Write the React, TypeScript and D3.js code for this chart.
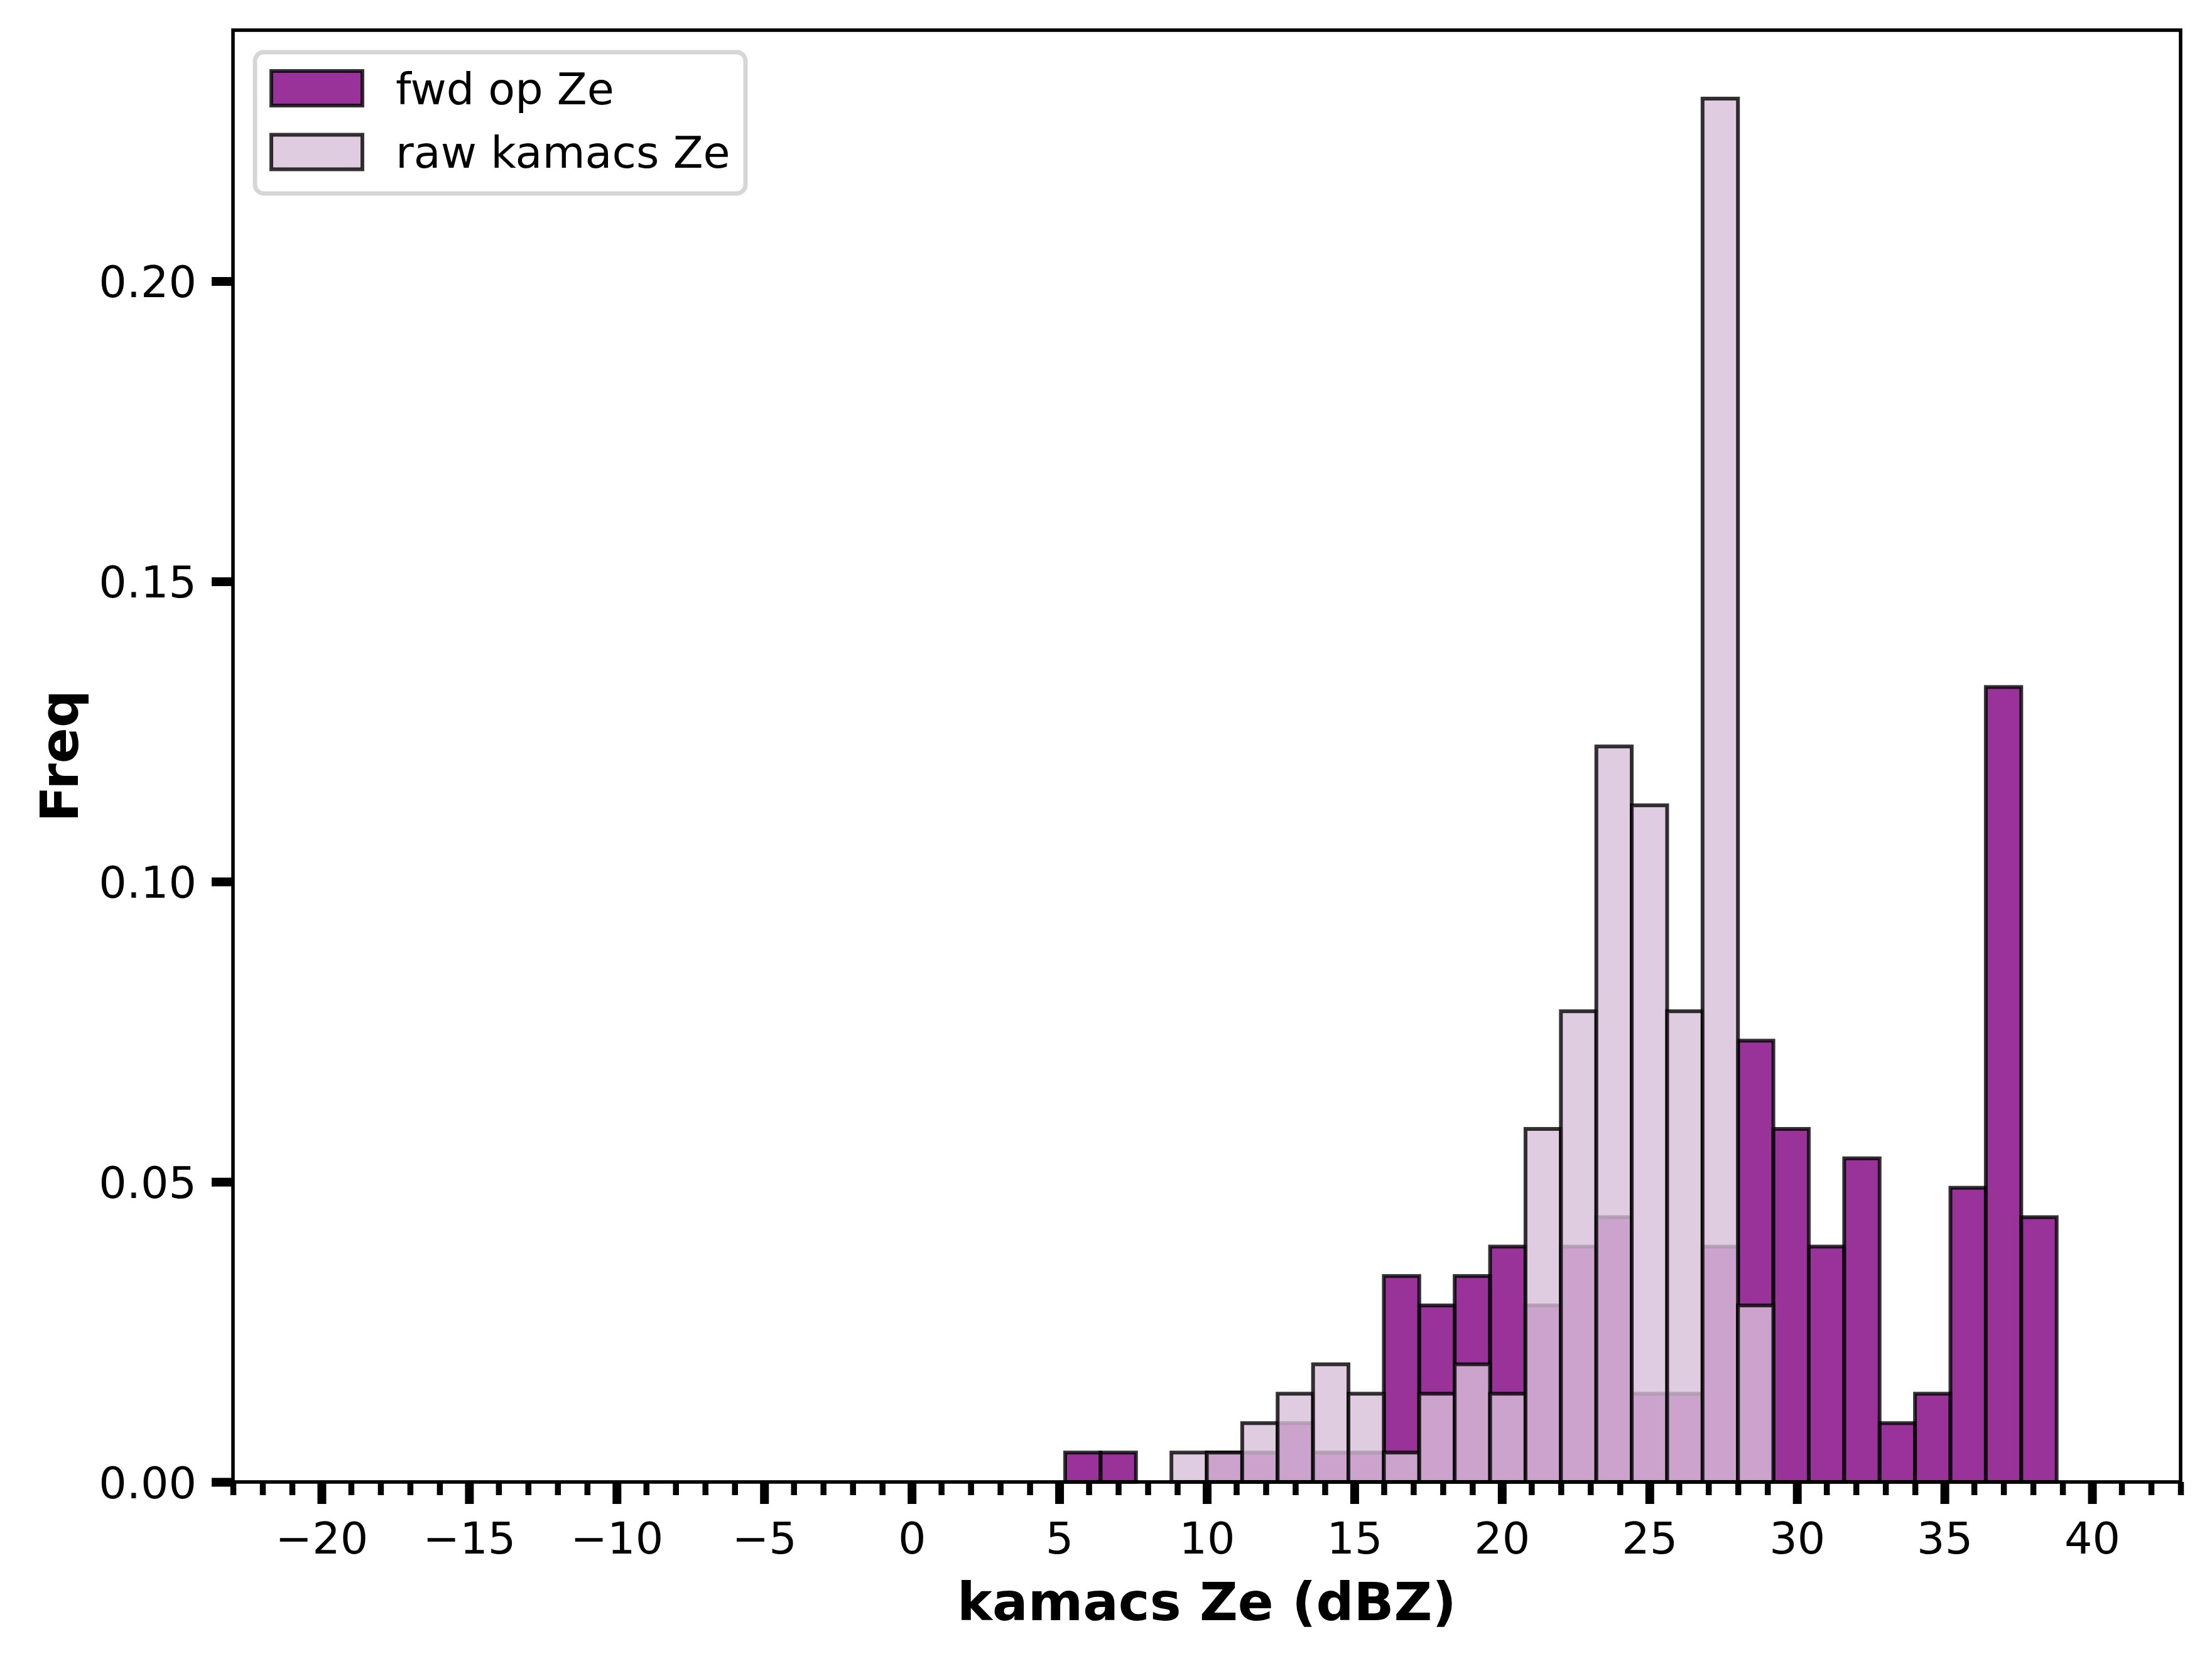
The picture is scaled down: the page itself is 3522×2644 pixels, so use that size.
import { useEffect, useRef } from "react"
import * as d3 from "d3"

// shared histogram bin edges (dBZ)
const binEdges = [
  5.2, 6.4, 7.6, 8.8, 10.0, 11.2, 12.4, 13.6, 14.8, 16.0, 17.2, 18.4, 19.6, 20.8, 22.0,
  23.2, 24.4, 25.6, 26.8, 28.0, 29.2, 30.4, 31.6, 32.8, 34.0, 35.2, 36.4, 37.6, 38.8,
]

// frequency per bin
const fwdFreq = [
  0.0049, 0.0049, 0, 0, 0.0049, 0.0049, 0.0098, 0.0049, 0.0049, 0.0343, 0.0294, 0.0343, 0.0392, 0.0294,
  0.0392, 0.0441, 0.0147, 0.0147, 0.0392, 0.0735, 0.0588, 0.0392, 0.0539, 0.0098, 0.0147, 0.049, 0.1324, 0.0441,
]
const rawFreq = [
  0, 0, 0, 0.0049, 0.0049, 0.0098, 0.0147, 0.0196, 0.0147, 0.0049, 0.0147, 0.0196, 0.0147, 0.0588,
  0.0784, 0.1225, 0.1127, 0.0784, 0.2304, 0.0294, 0, 0, 0, 0, 0, 0, 0, 0,
]

const seriesNames = ["fwd op Ze", "raw kamacs Ze"]
const xMajorTicks = [-20, -15, -10, -5, 0, 5, 10, 15, 20, 25, 30, 35, 40]
const yTicks = [0, 0.05, 0.1, 0.15, 0.2]

const W = 3522
const H = 2644
const FONT = "DejaVu Sans, Liberation Sans, sans-serif"

export default function App() {
  const svgRef = useRef<SVGSVGElement>(null)

  useEffect(() => {
    if (!svgRef.current) return
    const svg = d3.select(svgRef.current)
    svg.selectAll("*").remove()

    const left = 371
    const right = 3472
    const top = 48
    const bottom = 2359

    const x = d3.scaleLinear().domain([-23, 43]).range([left, right])
    const y = d3.scaleLinear().domain([0, 0.2418]).range([bottom, top])

    svg.append("rect").attr("width", W).attr("height", H).attr("fill", "white")

    const drawBars = (vals: number[], fill: string) => {
      const g = svg.append("g")
      vals.forEach((v, i) => {
        if (v <= 0) return
        g.append("rect")
          .attr("x", x(binEdges[i]))
          .attr("y", y(v))
          .attr("width", x(binEdges[i + 1]) - x(binEdges[i]))
          .attr("height", y(0) - y(v))
          .attr("fill", fill)
          .attr("fill-opacity", 0.8)
          .attr("stroke", "black")
          .attr("stroke-opacity", 0.8)
          .attr("stroke-width", 6)
      })
    }
    drawBars(fwdFreq, "purple")
    drawBars(rawFreq, "thistle")

    // spines
    svg.append("rect")
      .attr("x", left)
      .attr("y", top)
      .attr("width", right - left)
      .attr("height", bottom - top)
      .attr("fill", "none")
      .attr("stroke", "black")
      .attr("stroke-width", 5.6)

    // x minor ticks
    const minor = d3.range(-23, 44).filter((d) => d % 5 !== 0)
    svg.append("g")
      .attr("transform", `translate(0,${bottom})`)
      .call(d3.axisBottom(x).tickValues(minor).tickSize(21).tickFormat(() => ""))
      .call((g) => g.select(".domain").remove())
      .selectAll("line")
      .attr("stroke", "black")
      .attr("stroke-width", 9.5)

    // x major ticks
    const xAxis = svg.append("g")
      .attr("transform", `translate(0,${bottom})`)
      .call(d3.axisBottom(x).tickValues(xMajorTicks).tickSize(35).tickPadding(29).tickFormat(d3.format("d")))
      .call((g) => g.select(".domain").remove())
    xAxis.selectAll("line").attr("stroke", "black").attr("stroke-width", 14)
    xAxis.selectAll("text").attr("font-size", 70).attr("font-family", FONT).attr("fill", "black")

    // y ticks
    const yAxis = svg.append("g")
      .attr("transform", `translate(${left},0)`)
      .call(d3.axisLeft(y).tickValues(yTicks).tickSize(34).tickPadding(24).tickFormat(d3.format(".2f")))
      .call((g) => g.select(".domain").remove())
    yAxis.selectAll("line").attr("stroke", "black").attr("stroke-width", 14)
    yAxis.selectAll("text")
      .attr("font-size", 70)
      .attr("font-family", FONT)
      .attr("fill", "black")
      .attr("dy", "0.36em")

    // axis labels
    svg.append("text")
      .attr("x", (left + right) / 2)
      .attr("y", 2579)
      .attr("text-anchor", "middle")
      .attr("font-family", FONT)
      .attr("font-weight", "bold")
      .attr("font-size", 84)
      .text("kamacs Ze (dBZ)")

    svg.append("text")
      .attr("transform", `translate(124,${(top + bottom) / 2}) rotate(-90)`)
      .attr("text-anchor", "middle")
      .attr("font-family", FONT)
      .attr("font-weight", "bold")
      .attr("font-size", 84)
      .text("Freq")

    // legend
    const lg = svg.append("g")
    lg.append("rect")
      .attr("x", 406)
      .attr("y", 83)
      .attr("width", 781)
      .attr("height", 225)
      .attr("rx", 14)
      .attr("fill", "white")
      .attr("fill-opacity", 0.8)
      .attr("stroke", "#cccccc")
      .attr("stroke-opacity", 0.8)
      .attr("stroke-width", 7)
    const legendFills = ["purple", "thistle"]
    seriesNames.forEach((name, i) => {
      const cy = 140.5 + i * 101.5
      lg.append("rect")
        .attr("x", 432)
        .attr("y", cy - 27.5)
        .attr("width", 145)
        .attr("height", 55)
        .attr("fill", legendFills[i])
        .attr("fill-opacity", 0.8)
        .attr("stroke", "black")
        .attr("stroke-opacity", 0.8)
        .attr("stroke-width", 6)
      lg.append("text")
        .attr("x", 630)
        .attr("y", cy + 25)
        .attr("font-family", FONT)
        .attr("font-size", 70)
        .text(name)
    })
  }, [])

  return (
    <div style={{ position: "absolute", left: 0, top: 0 }}>
      <svg ref={svgRef} width={W} height={H} style={{ display: "block" }} />
    </div>
  )
}
